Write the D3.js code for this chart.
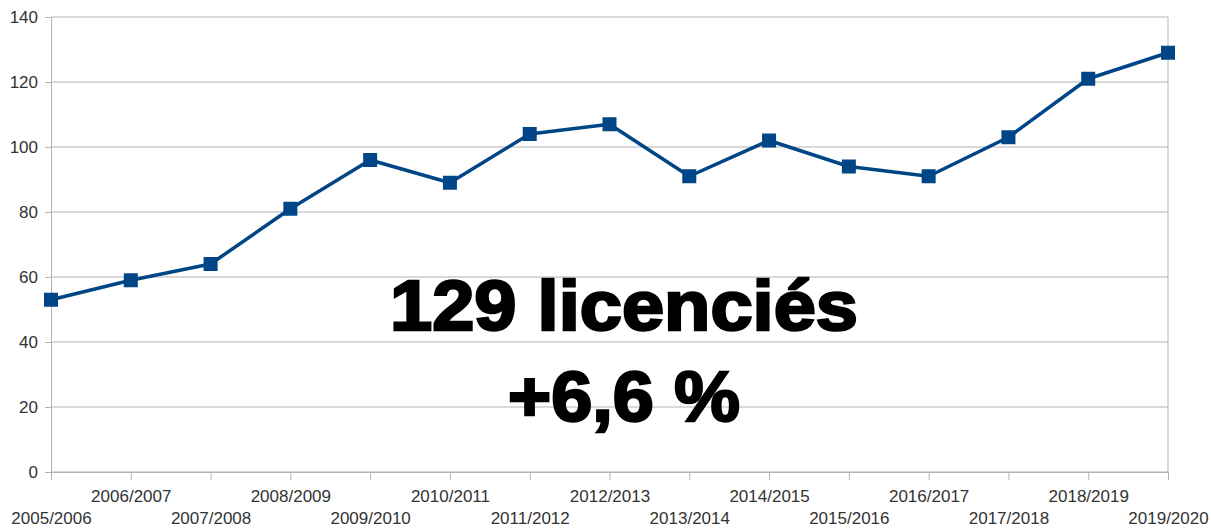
<!DOCTYPE html>
<html>
<head>
<meta charset="utf-8">
<script src="https://cdn.jsdelivr.net/npm/d3@7"></script>
<style>
  body { margin: 0; background: #fff; }
  text { font-family: "Liberation Sans", Arial, sans-serif; }
</style>
</head>
<body>
<div id="container"></div>
<script>
var seasons = ["2005/2006", "2006/2007", "2007/2008", "2008/2009", "2009/2010",
  "2010/2011", "2011/2012", "2012/2013", "2013/2014", "2014/2015",
  "2015/2016", "2016/2017", "2017/2018", "2018/2019", "2019/2020"];
var licencies = [53, 59, 64, 81, 96, 89, 104, 107, 91, 102, 94, 91, 103, 121, 129];
var yTicks = [0, 20, 40, 60, 80, 100, 120, 140];
var bigText = ["129 licenciés", "+6,6 %"];

let width = 1211,
  height = 529,
  margin = { top: 17, right: 43, bottom: 57, left: 51 },
  graphWidth = width - margin.left - margin.right,
  graphHeight = height - margin.top - margin.bottom;

var svg = d3.select("#container").append("svg")
  .attr("width", width).attr("height", height);
var g = svg.append("g")
  .attr("transform", "translate(" + margin.left + "," + margin.top + ")");

var xScale = d3.scalePoint().domain(seasons).range([0, graphWidth]);
var yScale = d3.scaleLinear().domain([0, 140]).range([graphHeight, 0]);

// grid
g.append("g").attr("class", "grid")
  .selectAll("line").data(yTicks).join("line")
  .attr("x1", 0).attr("x2", graphWidth)
  .attr("y1", d => yScale(d)).attr("y2", d => yScale(d))
  .style("stroke", "#b3b3b3").style("stroke-width", 1);
g.append("line")
  .attr("x1", graphWidth).attr("x2", graphWidth)
  .attr("y1", 0).attr("y2", graphHeight)
  .style("stroke", "#b3b3b3");

// y axis
var gY = g.append("g").attr("class", "axis y-axis")
  .call(d3.axisLeft(yScale).tickValues(yTicks).tickSize(6).tickPadding(7));
gY.selectAll(".tick text").style("font-size", "17px").style("fill", "#333");
gY.selectAll(".tick line").style("stroke", "#b3b3b3");
gY.select("path.domain").style("stroke", "#b3b3b3");

// x axis
var gX = g.append("g").attr("class", "axis x-axis")
  .attr("transform", "translate(0," + graphHeight + ")")
  .call(d3.axisBottom(xScale).tickSize(8).tickSizeOuter(0));
gX.selectAll(".tick line").style("stroke", "#b3b3b3");
gX.select("path.domain").style("stroke", "#b3b3b3");
gX.selectAll(".tick text")
  .style("font-size", "17px").style("fill", "#333")
  .attr("y", (d, i) => i % 2 ? 25 : 47)
  .attr("dy", "0.32em");

// series
var line = d3.line().x(d => xScale(d[0])).y(d => yScale(d[1]));
var pts = seasons.map((s, i) => [s, licencies[i]]);
g.append("path").datum(pts)
  .attr("d", line)
  .style("fill", "none").style("stroke", "#004586")
  .style("stroke-width", 3.5).style("stroke-linejoin", "round");
g.append("g").selectAll("rect").data(pts).join("rect")
  .attr("x", d => xScale(d[0]) - 7).attr("y", d => yScale(d[1]) - 7)
  .attr("width", 14).attr("height", 14)
  .style("fill", "#004586");

// big annotation
var bigWidths = [468, 232];
g.selectAll(".big").data(bigText).join("text")
  .attr("class", "big")
  .attr("x", 573).attr("y", (d, i) => i ? 404 : 313)
  .attr("text-anchor", "middle")
  .attr("textLength", (d, i) => bigWidths[i])
  .attr("lengthAdjust", "spacingAndGlyphs")
  .style("font-size", "70px").style("font-weight", "bold")
  .style("fill", "#000").style("stroke", "#000").style("stroke-width", 2.5)
  .text(d => d);
</script>
</body>
</html>
